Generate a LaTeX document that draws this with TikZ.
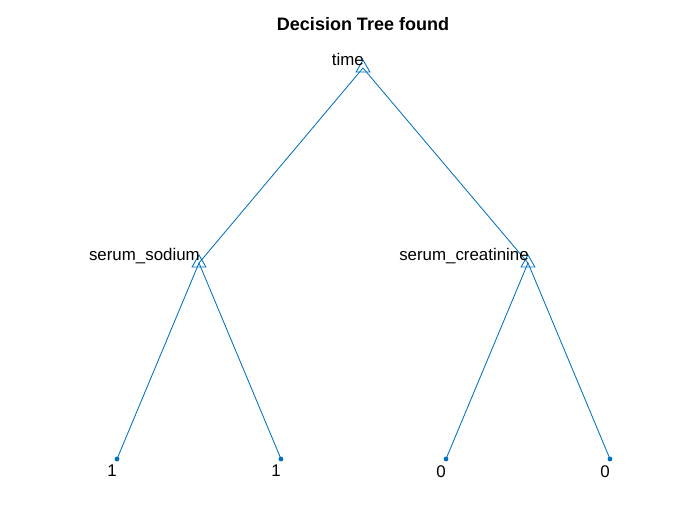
\documentclass[tikz,border=0pt]{standalone}
\usepackage{fontspec}
\setmainfont{Liberation Sans}
\usetikzlibrary{shapes.geometric}

\definecolor{treeblue}{RGB}{0,114,189}

\begin{document}
\begin{tikzpicture}[
    x=0.025cm, y=-0.025cm,
    font=\fontsize{12}{14}\selectfont,
    split/.style  ={draw=treeblue, regular polygon, regular polygon sides=3, minimum size=0.4cm, inner sep=0pt, line width=0.6pt},
    leaf/.style   ={circle, fill=treeblue, minimum size=0.12cm, inner sep=0pt},
    branch/.style ={draw=treeblue, line width=0.6pt},
    varname/.style={anchor=base east, inner sep=0pt},
    classval/.style={anchor=north, inner sep=0pt}
]
\useasboundingbox (0,0) rectangle (700,525);

% --- Title ---
\node[anchor=base, font=\fontsize{12.8}{15}\selectfont\bfseries] (title) at (363,31) {Decision Tree found};

% --- Tree nodes ---
\coordinate (root) at (363,68);
\coordinate (sod)  at (199,263);
\coordinate (cre)  at (528,263);
\node[leaf] (l1) at (117,459) {};
\node[leaf] (l2) at (281,459) {};
\node[leaf] (l3) at (446,459) {};
\node[leaf] (l4) at (610,459) {};

% --- Branches ---
\draw[branch] (root) -- (sod);
\draw[branch] (root) -- (cre);
\draw[branch] (sod) -- (l1.center);
\draw[branch] (sod) -- (l2.center);
\draw[branch] (cre) -- (l3.center);
\draw[branch] (cre) -- (l4.center);

% --- Split markers ---
\node[split] (rootm) at (root) {};
\node[split] (sodm)  at (sod)  {};
\node[split] (crem)  at (cre)  {};

% --- Labels ---
\node[varname] (rootlab) at (364,66)  {time};
\node[varname] (sodlab)  at (200,261) {serum\_sodium};
\node[varname] (crelab)  at (529,261) {serum\_creatinine};
\node[classval] (l1lab) at (112,465) {1};
\node[classval] (l2lab) at (276,465) {1};
\node[classval] (l3lab) at (441,465) {0};
\node[classval] (l4lab) at (605,465) {0};

\end{tikzpicture}
\end{document}
